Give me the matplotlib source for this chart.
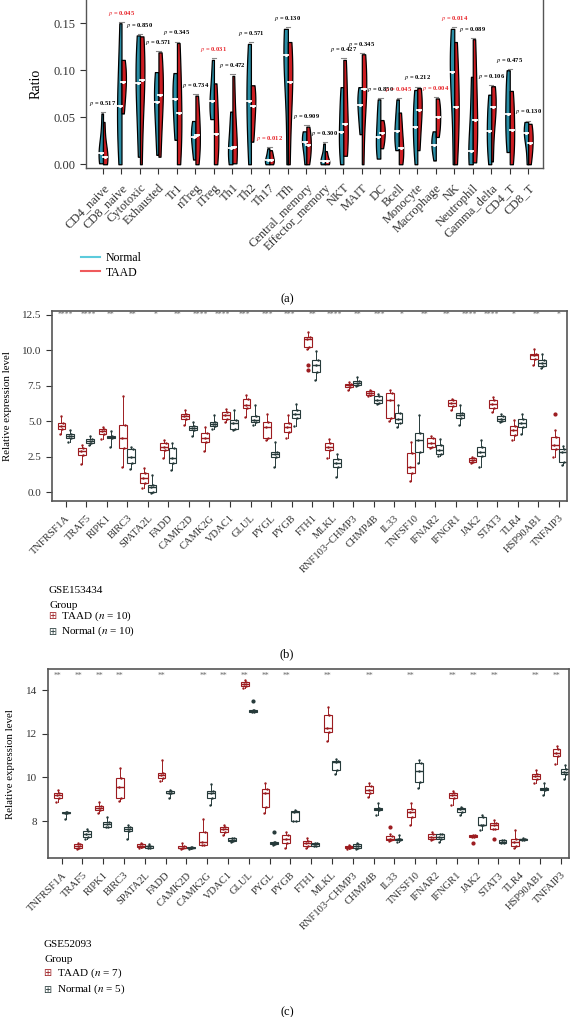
import numpy as np
import matplotlib
matplotlib.use("Agg")
import matplotlib.pyplot as plt
from matplotlib.lines import Line2D

plt.rcParams['font.family'] = ['Liberation Serif', 'DejaVu Serif']
plt.rcParams['mathtext.fontset'] = 'stix'

# ---------------- panel (a) data: immune cell ratios ----------------
cells = ['CD4_naive', 'CD8_naive', 'Cytotoxic', 'Exhausted', 'Tr1', 'nTreg', 'iTreg',
         'Th1', 'Th2', 'Th17', 'Tfh', 'Central_memory', 'Effector_memory', 'NKT', 'MAIT',
         'DC', 'Bcell', 'Monocyte', 'Macrophage', 'NK', 'Neutrophil', 'Gamma_delta',
         'CD4_T', 'CD8_T']
# min, lower, median, upper, max
normal_a = [[0.001, 0.006, 0.012, 0.025, 0.054], [0.0, 0.035, 0.062, 0.09, 0.150],
            [0.008, 0.06, 0.086, 0.11, 0.137], [0.010, 0.045, 0.066, 0.085, 0.098],
            [0.026, 0.05, 0.069, 0.085, 0.097], [0.005, 0.02, 0.029, 0.038, 0.046],
            [0.048, 0.058, 0.067, 0.085, 0.111], [0.0, 0.008, 0.017, 0.035, 0.056],
            [0.0, 0.04, 0.067, 0.095, 0.128], [0.0, 0.002, 0.004, 0.01, 0.017],
            [0.0, 0.085, 0.116, 0.13, 0.144], [0.0, 0.015, 0.024, 0.03, 0.035],
            [0.0, 0.001, 0.003, 0.01, 0.022], [0.0, 0.02, 0.034, 0.06, 0.082],
            [0.032, 0.05, 0.063, 0.073, 0.082], [0.006, 0.018, 0.029, 0.05, 0.069],
            [0.015, 0.025, 0.035, 0.05, 0.069], [0.0, 0.025, 0.040, 0.06, 0.079],
            [0.004, 0.015, 0.021, 0.028, 0.035], [0.0, 0.08, 0.098, 0.12, 0.144],
            [0.0, 0.006, 0.014, 0.05, 0.093], [0.0, 0.02, 0.035, 0.055, 0.074],
            [0.013, 0.035, 0.053, 0.08, 0.100], [0.0, 0.025, 0.033, 0.04, 0.045]]
taad_a = [[0.0, 0.004, 0.008, 0.02, 0.045], [0.054, 0.075, 0.087, 0.10, 0.111],
          [0.0, 0.065, 0.090, 0.115, 0.136], [0.008, 0.055, 0.074, 0.095, 0.119],
          [0.0, 0.03, 0.054, 0.09, 0.129], [0.0, 0.018, 0.031, 0.05, 0.073],
          [0.0, 0.02, 0.032, 0.06, 0.086], [0.001, 0.008, 0.018, 0.05, 0.094],
          [0.024, 0.045, 0.062, 0.075, 0.084], [0.0, 0.002, 0.005, 0.01, 0.015],
          [0.0, 0.06, 0.088, 0.11, 0.130], [0.0, 0.012, 0.020, 0.03, 0.040],
          [0.0, 0.001, 0.003, 0.008, 0.014], [0.009, 0.028, 0.043, 0.08, 0.111],
          [0.0, 0.06, 0.080, 0.095, 0.117], [0.017, 0.026, 0.033, 0.04, 0.047],
          [0.0, 0.01, 0.017, 0.035, 0.055], [0.015, 0.04, 0.058, 0.07, 0.081],
          [0.029, 0.04, 0.050, 0.06, 0.070], [0.0, 0.04, 0.061, 0.09, 0.130],
          [0.002, 0.03, 0.047, 0.09, 0.133], [0.003, 0.045, 0.061, 0.072, 0.083],
          [0.0, 0.02, 0.036, 0.06, 0.078], [0.0, 0.015, 0.023, 0.035, 0.043]]
pvals = ['0.517', '0.045', '0.850', '0.571', '0.345', '0.734', '0.031', '0.472', '0.571',
         '0.012', '0.130', '0.909', '0.300', '0.427', '0.345', '0.850', '0.045', '0.212',
         '0.004', '0.014', '0.089', '0.106', '0.475', '0.130']

# ---------------- panels (b) and (c): gene expression boxes ----------------
genes = ['TNFRSF1A', 'TRAF5', 'RIPK1', 'BIRC3', 'SPATA2L', 'FADD', 'CAMK2D', 'CAMK2G',
         'VDAC1', 'GLUL', 'PYGL', 'PYGB', 'FTH1', 'MLKL', 'RNF103\u2212CHMP3', 'CHMP4B',
         'IL33', 'TNFSF10', 'IFNAR2', 'IFNGR1', 'JAK2', 'STAT3', 'TLR4', 'HSP90AB1',
         'TNFAIP3']
# whislo, q1, median, q3, whishi
b_taad = [[4.13, 4.48, 4.67, 4.84, 5.35], [2.0, 2.61, 2.91, 3.08, 3.31],
          [3.71, 4.13, 4.32, 4.48, 4.60], [1.78, 3.08, 3.78, 4.76, 6.76],
          [0.32, 0.61, 1.01, 1.31, 1.71], [2.37, 2.96, 3.19, 3.43, 3.66],
          [4.76, 5.19, 5.35, 5.54, 5.82], [2.9, 3.54, 3.85, 4.17, 4.6],
          [4.95, 5.19, 5.42, 5.66, 5.89], [5.31, 5.96, 6.13, 6.6, 6.83],
          [3.66, 3.85, 4.6, 4.95, 5.54], [3.78, 4.25, 4.6, 4.88, 5.42],
          [10.12, 10.23, 10.82, 10.94, 11.29], [2.37, 2.96, 3.19, 3.43, 3.71],
          [7.18, 7.42, 7.54, 7.65, 7.77], [6.76, 6.85, 7.0, 7.12, 7.23],
          [5.03, 5.26, 6.48, 7.02, 7.18], [0.8, 1.31, 1.78, 2.77, 3.54],
          [3.08, 3.19, 3.47, 3.78, 3.94], [5.77, 6.06, 6.29, 6.48, 6.6],
          [2.02, 2.14, 2.25, 2.37, 2.49], [5.66, 5.96, 6.2, 6.48, 6.72],
          [3.66, 4.01, 4.36, 4.65, 5.07], [8.94, 9.41, 9.65, 9.77, 10.12],
          [2.49, 3.01, 3.31, 3.9, 4.41]]
b_normal = [[3.54, 3.85, 3.97, 4.13, 4.36], [3.31, 3.47, 3.61, 3.71, 3.99],
            [3.2, 3.78, 3.9, 3.99, 4.29], [1.6, 2.07, 2.5, 3.01, 3.2],
            [-0.1, 0.02, 0.35, 0.49, 1.2], [1.55, 2.02, 2.37, 3.08, 3.43],
            [3.99, 4.36, 4.53, 4.65, 4.95], [4.48, 4.65, 4.79, 4.95, 5.47],
            [4.36, 4.48, 4.84, 5.12, 5.77], [4.72, 4.95, 5.07, 5.35, 6.13],
            [1.78, 2.49, 2.67, 2.84, 3.54], [4.65, 5.26, 5.54, 5.77, 6.2],
            [7.89, 8.47, 8.94, 9.3, 9.99], [1.08, 1.78, 2.02, 2.3, 2.67],
            [7.47, 7.54, 7.7, 7.81, 8.12], [6.24, 6.29, 6.53, 6.76, 6.95],
            [4.6, 4.84, 5.19, 5.59, 6.13], [2.07, 2.84, 3.66, 4.17, 5.42],
            [2.54, 2.72, 2.96, 3.31, 3.71], [4.72, 5.26, 5.47, 5.59, 6.13],
            [1.74, 2.54, 2.84, 3.19, 3.66], [4.95, 5.02, 5.19, 5.35, 5.54],
            [4.08, 4.6, 4.88, 5.19, 5.54], [8.78, 8.87, 9.1, 9.34, 9.72],
            [1.9, 2.14, 2.84, 3.01, 3.24]]
b_taad_out = {'FTH1': [8.94, 8.64], 'TNFAIP3': [5.54]}
b_normal_out = {}
# 23 significance labels printed across the top of (b)
b_stars = ['****', '****', '**', '**', '*', '**', '****', '****', '***', '***', '***',
           '**', '****', '**', '***', '*', '**', '**', '****', '****', '*', '**', '*']

c_taad = [[8.88, 9.07, 9.19, 9.31, 9.42], [6.72, 6.75, 6.84, 6.93, 6.98],
          [8.35, 8.5, 8.61, 8.69, 8.88], [8.92, 9.04, 9.54, 9.98, 10.41],
          [6.78, 6.82, 6.87, 6.93, 7.0], [9.83, 9.98, 10.11, 10.21, 10.79],
          [6.72, 6.75, 6.78, 6.87, 6.98], [6.9, 6.9, 7.05, 7.52, 8.12],
          [7.36, 7.48, 7.63, 7.74, 7.8], [14.1, 14.19, 14.28, 14.38, 14.45],
          [8.35, 8.65, 9.28, 9.46, 9.73], [6.78, 6.98, 7.2, 7.36, 7.52],
          [6.78, 6.87, 7.0, 7.1, 7.25], [11.66, 12.06, 12.27, 12.88, 13.23],
          [6.72, 6.75, 6.8, 6.87, 6.9], [9.11, 9.27, 9.42, 9.6, 9.73],
          [7.09, 7.13, 7.2, 7.33, 7.4], [7.8, 8.21, 8.4, 8.55, 8.84],
          [7.13, 7.17, 7.28, 7.39, 7.48], [8.76, 9.04, 9.2, 9.31, 9.37],
          [7.27, 7.27, 7.32, 7.36, 7.36], [7.65, 7.65, 7.8, 7.92, 8.04],
          [6.75, 6.87, 7.05, 7.2, 7.58], [9.73, 9.95, 10.05, 10.14, 10.33],
          [10.6, 10.99, 11.11, 11.3, 11.46]]
c_normal = [[8.12, 8.35, 8.39, 8.43, 8.43], [7.17, 7.28, 7.41, 7.54, 7.66],
            [7.72, 7.74, 7.86, 7.97, 8.2], [7.19, 7.54, 7.63, 7.74, 7.8],
            [6.75, 6.78, 6.84, 6.87, 6.93], [9.04, 9.27, 9.31, 9.37, 9.42],
            [6.72, 6.75, 6.78, 6.8, 6.82], [8.73, 9.04, 9.27, 9.37, 9.68],
            [7.05, 7.08, 7.15, 7.21, 7.24], [13.0, 13.0, 13.05, 13.08, 13.08],
            [6.9, 6.93, 6.98, 7.05, 7.05], [8.0, 8.0, 8.43, 8.46, 8.5],
            [6.85, 6.87, 6.93, 6.98, 7.0], [10.14, 10.33, 10.71, 10.75, 10.84],
            [6.72, 6.75, 6.87, 6.93, 6.98], [8.27, 8.5, 8.56, 8.61, 8.84],
            [7.05, 7.13, 7.17, 7.2, 7.36], [9.5, 9.77, 10.29, 10.64, 10.79],
            [7.05, 7.17, 7.28, 7.39, 7.43], [8.3, 8.43, 8.55, 8.61, 8.66],
            [7.61, 7.8, 7.83, 8.2, 8.3], [6.98, 7.02, 7.05, 7.13, 7.13],
            [7.13, 7.15, 7.18, 7.2, 7.22], [9.2, 9.42, 9.46, 9.5, 9.73],
            [9.95, 10.14, 10.26, 10.38, 10.57]]
c_taad_out = {'IL33': [7.72], 'JAK2': [6.98], 'STAT3': [7.2]}
c_normal_out = {'GLUL': [13.49], 'PYGL': [7.52]}
c_stars = ['**', '**', '**', '**', '', '**', '', '**', '**', '**', '**', '**', '', '**',
           '', '**', '', '**', '', '**', '**', '**', '', '**', '**']

red = '#9c1c20'
dark = '#263a3a'
spine_col = '#555555'

fig = plt.figure(figsize=(5.74, 10.17), dpi=100)

# ================= (a) split violins =================
ax = fig.add_axes([0.1498, 0.8348, 0.7962, 0.1652])
x = np.arange(len(cells))
vn = ax.violinplot(normal_a, positions=x, widths=0.48, side='low',
                   showextrema=False, showmedians=False)
vt = ax.violinplot(taad_a, positions=x, widths=0.48, side='high',
                   showextrema=False, showmedians=False)
for b in vn['bodies']:
    b.set_facecolor('#2a8ea6')
    b.set_edgecolor('black')
    b.set_linewidth(0.9)
    b.set_alpha(1)
for b in vt['bodies']:
    b.set_facecolor('#cc1d22')
    b.set_edgecolor('black')
    b.set_linewidth(0.9)
    b.set_alpha(1)
med_n = [v[2] for v in normal_a]
med_t = [v[2] for v in taad_a]
ax.scatter(x - 0.1, med_n, marker='_', s=14, color='white', lw=1.3, zorder=4)
ax.scatter(x - 0.1, med_n, marker='o', s=5, color='white', lw=0, zorder=4)
ax.scatter(x + 0.1, med_t, marker='_', s=14, color='white', lw=1.3, zorder=4)
ax.scatter(x + 0.1, med_t, marker='o', s=5, color='white', lw=0, zorder=4)
for i in range(len(cells)):
    top = max(normal_a[i][4], taad_a[i][4])
    col = '#e8262b' if float(pvals[i]) < 0.05 else 'black'
    ax.plot([i - 0.12, i + 0.12], [top + 0.0015] * 2, color='#888888', lw=0.8)
    ax.text(i, top + 0.006, '$p$ = ' + pvals[i], ha='center', va='bottom',
            fontsize=4.7, color=col, fontweight='bold')
ax.set_xlim(-0.92, 23.8)
ax.set_ylim(-0.004, 0.1747)
ax.set_yticks([0, 0.05, 0.10, 0.15])
ax.set_yticklabels(['0.00', '0.05', '0.10', '0.15'])
ax.set_xticks(x)
ax.set_xticklabels(cells, rotation=45, ha='right', rotation_mode='anchor')
ax.tick_params(axis='both', labelsize=9, colors='#333333', direction='out', length=4)
ax.tick_params(axis='x', pad=6)
ax.spines['top'].set_visible(False)
for s in ['left', 'bottom', 'right']:
    ax.spines[s].set_color(spine_col)
    ax.spines[s].set_linewidth(1.0)
ax.set_ylabel('Ratio', fontsize=10)
ax.yaxis.set_label_coords(-0.096, 0.5)

handles = [Line2D([0], [0], color='#5ccbdc', lw=1.5), Line2D([0], [0], color='#ef5a5c', lw=1.5)]
fig.legend(handles, ['Normal', 'TAAD'], loc='upper left', bbox_to_anchor=(0.122, 0.7625),
           frameon=False, fontsize=8.5, handlelength=1.6, handletextpad=0.5,
           labelspacing=0.2)
fig.text(0.5, 0.706, '(a)', ha='center', va='center', fontsize=9)


# ================= (b) and (c) boxplots =================
def box_panel(rect, taad, normal, taad_out, normal_out, stars, star_x, star_y, ylim,
              yticks, ytlab, ylab_x):
    ax = fig.add_axes(rect)
    pos = np.arange(len(genes))
    for data, outs, off, col in [(taad, taad_out, -0.2, red), (normal, normal_out, 0.2, dark)]:
        stats = []
        for g, v in zip(genes, data):
            stats.append(dict(whislo=v[0], q1=v[1], med=v[2], q3=v[3], whishi=v[4],
                              fliers=outs.get(g, [])))
        ax.bxp(stats, positions=pos + off, widths=0.38, patch_artist=True,
               boxprops=dict(facecolor='white', edgecolor=col, lw=0.8),
               medianprops=dict(color=col, lw=1.0),
               whiskerprops=dict(color=col, lw=0.7), capprops=dict(lw=0),
               flierprops=dict(marker='o', markersize=2, markerfacecolor=col,
                               markeredgecolor=col))
        # sample dots on top of each box
        for i, v in enumerate(data):
            ax.scatter(pos[i] + off + np.array([-0.06, 0.05, -0.03, 0.07, 0.0]), v,
                       s=3, color=col, lw=0, zorder=5)
    for xs, s in zip(star_x, stars):
        ax.text(xs, star_y, s, ha='center', va='center', fontsize=5.5, color='#666666')
    ax.set_xlim(-0.66, 24.4)
    ax.set_ylim(*ylim)
    ax.set_yticks(yticks)
    ax.set_yticklabels(ytlab)
    ax.set_xticks(pos)
    ax.set_xticklabels(genes, rotation=45, ha='right', rotation_mode='anchor')
    ax.tick_params(axis='both', labelsize=7.6, colors='#333333', direction='out', length=4)
    ax.tick_params(axis='y', labelsize=8)
    ax.tick_params(axis='x', pad=5)
    for s in ax.spines.values():
        s.set_color(spine_col)
        s.set_linewidth(1.2)
    ax.set_ylabel('Relative expression level', fontsize=7.8)
    ax.yaxis.set_label_coords(ylab_x, 0.5)
    return ax


# the (b) labels are spread evenly over the full gene range
b_star_x = np.linspace(0, len(genes) - 1, len(b_stars))
box_panel([0.0906, 0.5074, 0.8972, 0.1868], b_taad, b_normal, b_taad_out, b_normal_out,
          b_stars, b_star_x, 12.5, (-0.63, 12.78), [0, 2.5, 5, 7.5, 10, 12.5],
          ['0.0', '2.5', '5.0', '7.5', '10.0', '12.5'], -0.077)
fig.text(0.085, 0.419, 'GSE153434', fontsize=8, va='center')
fig.text(0.087, 0.405, 'Group', fontsize=8, va='center')
fig.text(0.083, 0.394, '\u229e', fontsize=7, color=red, va='center', family='DejaVu Sans')
fig.text(0.106, 0.394, 'TAAD ($n$ = 10)', fontsize=8, va='center')
fig.text(0.083, 0.379, '\u229e', fontsize=7, color=dark, va='center', family='DejaVu Sans')
fig.text(0.106, 0.379, 'Normal ($n$ = 10)', fontsize=8, va='center')
fig.text(0.5, 0.357, '(b)', ha='center', va='center', fontsize=9)

box_panel([0.0836, 0.1563, 0.9077, 0.1858], c_taad, c_normal, c_taad_out, c_normal_out,
          c_stars, np.arange(len(genes)) - 0.2, 14.64, (6.31, 14.96), [8, 10, 12, 14],
          ['8', '10', '12', '14'], -0.063)
fig.text(0.076, 0.071, 'GSE52093', fontsize=8, va='center')
fig.text(0.078, 0.057, 'Group', fontsize=8, va='center')
fig.text(0.076, 0.043, '\u229e', fontsize=7, color=red, va='center', family='DejaVu Sans')
fig.text(0.100, 0.043, 'TAAD ($n$ = 7)', fontsize=8, va='center')
fig.text(0.076, 0.027, '\u229e', fontsize=7, color=dark, va='center', family='DejaVu Sans')
fig.text(0.100, 0.027, 'Normal ($n$ = 5)', fontsize=8, va='center')
fig.text(0.5, 0.005, '(c)', ha='center', va='center', fontsize=9)

fig.savefig('out.png', dpi=100)
